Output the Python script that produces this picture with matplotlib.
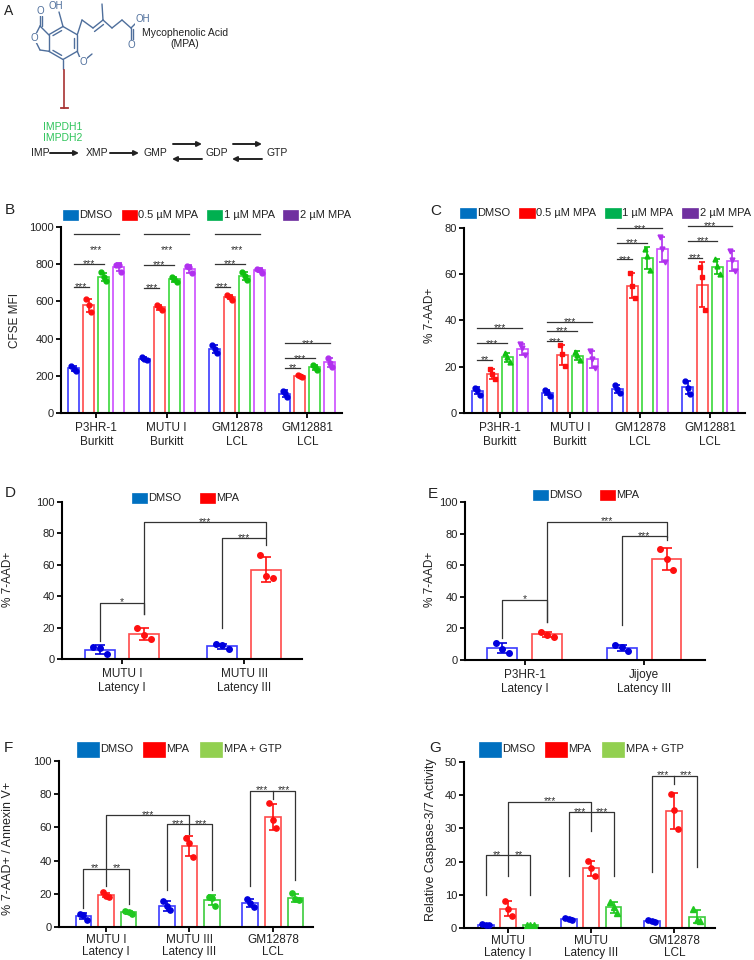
import matplotlib.pyplot as plt
import numpy as np
from matplotlib.patches import Rectangle, FancyArrowPatch

plt.rcParams['font.family'] = ['Liberation Sans', 'DejaVu Sans']
plt.rcParams['axes.linewidth'] = 1.5

W, H = 754, 960

# ---------------- data ----------------
# panel B : CFSE MFI, three replicates per bar
b_groups = ['P3HR-1\nBurkitt', 'MUTU I\nBurkitt', 'GM12878\nLCL', 'GM12881\nLCL']
b_series = ['DMSO', '0.5 µM MPA', '1 µM MPA', '2 µM MPA']
b_dmso = [[252, 238, 228], [300, 292, 283], [366, 342, 324], [120, 108, 84]]
b_mpa05 = [[611, 580, 545], [582, 570, 552], [633, 624, 610], [206, 200, 195]]
b_mpa1 = [[756, 729, 712], [732, 722, 706], [756, 738, 715], [258, 249, 232]]
b_mpa2 = [[796, 795, 760], [790, 785, 752], [776, 770, 755], [298, 268, 250]]
# (group, bar i, bar j, height, label)
b_sig = [(0, 0, 1, 679, '***'), (0, 0, 2, 801, '***'), (0, 0, 3, 962, '***'),
         (1, 0, 1, 674, '***'), (1, 0, 2, 796, '***'), (1, 0, 3, 962, '***'),
         (2, 0, 1, 679, '***'), (2, 0, 2, 801, '***'), (2, 0, 3, 962, '***'),
         (3, 0, 1, 244, '**'), (3, 0, 2, 294, '***'), (3, 0, 3, 375, '***')]

# panel C : % 7-AAD+
c_groups = b_groups
c_series = b_series
c_dmso = [[11.0, 10.0, 8.0], [10.0, 9.0, 7.5], [12.0, 10.3, 8.5], [14.0, 11.0, 8.3]]
c_mpa05 = [[18.9, 17.0, 14.5], [29.4, 25.5, 20.5], [60.5, 55.0, 49.8], [63.0, 58.7, 44.5]]
c_mpa1 = [[26.0, 24.2, 22.0], [26.5, 25.0, 22.8], [71.0, 68.0, 61.7], [66.5, 63.5, 60.0]]
c_mpa2 = [[29.8, 28.0, 25.0], [27.0, 23.3, 19.5], [76.0, 71.0, 65.4], [70.0, 66.0, 61.5]]
c_sig = [(0, 0, 1, 22.9, '**'), (0, 0, 2, 30.1, '***'), (0, 0, 3, 36.9, '***'),
         (1, 0, 1, 31.1, '***'), (1, 0, 2, 35.5, '***'), (1, 0, 3, 39.5, '***'),
         (2, 0, 1, 66.4, '***'), (2, 0, 2, 73.6, '***'), (2, 0, 3, 79.8, '***'),
         (3, 0, 1, 67.2, '***'), (3, 0, 2, 74.4, '***'), (3, 0, 3, 80.9, '***')]

# panel D
d_groups = ['MUTU I\nLatency I', 'MUTU III\nLatency III']
de_series = ['DMSO', 'MPA']
d_dmso = [[7.8, 7.3, 3.0], [9.3, 8.7, 6.2]]
d_mpa = [[19.9, 15.4, 12.7], [66.0, 52.9, 51.6]]
# (label, (group, bar), left arm bottom, (group, bar), right arm bottom, top)
d_sig = [('*', (0, 0), 11.4, (0, 1), 28.4, 35.7),
         ('***', (0, 1), 28.4, (1, 1), 77.7, 87.2),
         ('***', (1, 0), 19.5, (1, 1), 72.6, 77.0)]

# panel E
e_groups = ['P3HR-1\nLatency I', 'Jijoye\nLatency III']
e_dmso = [[11.0, 6.8, 4.5], [9.5, 8.3, 5.6]]
e_mpa = [[17.8, 16.0, 14.8], [70.5, 64.0, 57.0]]
e_sig = [('*', (0, 0), 13.7, (0, 1), 24.2, 38.0),
         ('***', (0, 1), 24.2, (1, 1), 78.0, 87.3),
         ('***', (1, 0), 22.0, (1, 1), 75.9, 78.3)]

# panel F : % 7-AAD+ / Annexin V+
f_groups = ['MUTU I\nLatency I', 'MUTU III\nLatency III', 'GM12878\nLCL']
fg_series = ['DMSO', 'MPA', 'MPA + GTP']
f_dmso = [[8.0, 7.2, 4.5], [15.5, 12.5, 10.0], [16.8, 14.5, 11.8]]
f_mpa = [[20.8, 18.6, 18.2], [53.5, 50.5, 42.2], [74.8, 64.2, 59.5]]
f_gtp = [[9.5, 9.0, 8.0], [18.2, 17.5, 12.5], [20.5, 16.6, 16.0]]
# per group: left arm bottom, right arm bottom, top, centre tick bottom
f_grp_sig = [(11.4, 13.8, 35.0, 35.0), (22.4, 22.4, 62.0, 62.0), (24.4, 28.4, 82.0, 77.4)]
f_grp_lab = [('**', '**'), ('***', '***'), ('***', '***')]
f_long = ('***', (0, 1), 24.4, (1, 1), 56.2, 67.4)

# panel G : caspase 3/7
g_groups = ['MUTU\nLatency I', 'MUTU\nLatency III', 'GM12878\nLCL']
g_dmso = [[1.1, 1.0, 1.0], [3.0, 2.7, 2.5], [2.4, 2.0, 1.7]]
g_mpa = [[8.0, 5.8, 3.5], [20.3, 18.0, 15.6], [40.4, 35.5, 29.8]]
g_gtp = [[1.0, 0.9, 0.8], [7.9, 6.3, 4.4], [5.6, 2.5, 2.2]]
g_grp_sig = [(9.8, 9.8, 21.9, 21.9), (15.6, 15.6, 34.9, 34.9), (16.8, 18.5, 45.8, 43.3)]
g_grp_lab = [('**', '**'), ('***', '***'), ('***', '***')]
g_long = ('***', (0, 1), 15.6, (1, 1), 29.3, 38.0)

# ---------------- styles ----------------
EDGE4 = ['#3b3bff', '#ff4a4a', '#3ad83a', '#cc4dff']
DOT4 = ['#0000dd', '#ff1010', '#10c010', '#b030ee']
LEG4 = ['#0070c0', '#ff0000', '#00b050', '#7030a0']
EDGE3 = ['#3b3bff', '#ff4a4a', '#3ccc3c']
DOT3 = ['#0000dd', '#ff1010', '#20c820']
LEG3 = ['#0070c0', '#ff0000', '#92d050']
SIG = '#333333'
NARROW = ['Liberation Sans Narrow', 'Liberation Sans', 'DejaVu Sans']

fig = plt.figure(figsize=(W / 100, H / 100), dpi=100)


def fx(x):
    return x / W


def fy(y):
    return 1 - y / H


def add_ax(l, t, r, b, xpad=3):
    ax = fig.add_axes([fx(l), fy(b), (r - l) / W, (b - t) / H])
    ax.spines[['top', 'right']].set_visible(False)
    ax.tick_params(direction='out', length=3.5, width=1.3, labelsize=8, labelcolor='#222222', pad=1.5)
    ax.tick_params(axis='x', labelsize=8.5, pad=xpad)
    return ax


def xpos(g, k, n, step):
    return g + (k - (n - 1) / 2) * step


def draw_bars(ax, series, edges, dots, marks, width, step, ms, cap):
    n = len(series)
    for k, pts in enumerate(series):
        pts = np.array(pts, dtype=float)
        x = xpos(np.arange(len(pts)), k, n, step)
        m = pts.mean(axis=1)
        sd = pts.std(axis=1, ddof=1)
        ax.bar(x, m, width, color='white', edgecolor=edges[k], linewidth=1.2, zorder=2)
        ax.errorbar(x, m, yerr=sd, fmt='none', ecolor=dots[k], elinewidth=1.2,
                    capsize=cap, capthick=1.2, zorder=3)
        jit = np.array([-0.22, 0.0, 0.22]) * width
        for xi, row in zip(x, pts):
            ax.plot(xi + jit, row, linestyle='none', marker=marks[k], ms=ms,
                    color=dots[k], zorder=4)


def stars(ax, x, y, label, dy):
    ax.annotate(label, (x, y), xytext=(0, dy * 0.72), textcoords='offset points',
                ha='center', va='baseline', fontsize=7.5, color=SIG, annotation_clip=False)


def sig_lines(ax, sig, n, step, top_dy):
    for g, i, j, y, lab in sig:
        x1, x2 = xpos(g, i, n, step), xpos(g, j, n, step)
        ax.plot([x1, x2], [y, y], color=SIG, lw=0.9, clip_on=False)
        dy = top_dy if (j == n - 1 and top_dy is not None and g < 3) else -3.5
        stars(ax, (x1 + x2) / 2, y, lab, dy)


def bracket(ax, sig, n, step):
    lab, (g1, k1), y1, (g2, k2), y2, top = sig
    x1, x2 = xpos(g1, k1, n, step), xpos(g2, k2, n, step)
    ax.plot([x1, x1, x2, x2], [y1, top, top, y2], color=SIG, lw=0.9, clip_on=False)
    stars(ax, (x1 + x2) / 2, top, lab, -2.5)


def group_brackets(ax, grp, labs, step):
    for g, ((yl, yr, top, tick), (la, lb)) in enumerate(zip(grp, labs)):
        x0, xm, x2 = (xpos(g, k, 3, step) for k in range(3))
        ax.plot([x0, x0, x2, x2], [yl, top, top, yr], color=SIG, lw=0.9, clip_on=False)
        ax.plot([xm, xm], [top, tick], color=SIG, lw=0.9, clip_on=False)
        stars(ax, (x0 + xm) / 2, top, la, -2.5)
        stars(ax, (xm + x2) / 2, top, lb, -2.5)


def legend_row(labels, colors, xs, yc, pw, ph):
    for lab, col, x in zip(labels, colors, xs):
        fig.patches.append(Rectangle((fx(x), fy(yc + ph / 2)), pw / W, ph / H,
                                     transform=fig.transFigure, facecolor=col,
                                     edgecolor=col, lw=0.5))
        fig.text(fx(x + pw + 1.5), fy(yc), lab, ha='left', va='center', fontsize=8, color='#222222')


def panel_letter(x, y, s, size=11):
    fig.text(fx(x), fy(y), s, ha='left', va='center', fontsize=size, color='#222222')


def ylab(x, y, s, size=8.5):
    fig.text(fx(x), fy(y), s, ha='center', va='center', rotation=90, fontsize=size, color='#222222')


# ---------------- panel A ----------------
axa = fig.add_axes([0, fy(180), 1, 180 / H])
axa.set_xlim(0, W)
axa.set_ylim(180, 0)
axa.axis('off')
MOL = '#4f6f9c'


def bond(p, q, lw=1.0):
    axa.plot([p[0], q[0]], [p[1], q[1]], color=MOL, lw=lw, solid_capstyle='round')


cx, cy, r = 63.0, 43.0, 16.5
ang = np.deg2rad(90 + 60 * np.arange(6))
hexv = [(cx + r * np.cos(a), cy - r * np.sin(a)) for a in ang]
for i in range(6):
    bond(hexv[i], hexv[(i + 1) % 6])
for i in (0, 2, 4):
    p, q = np.array(hexv[i]), np.array(hexv[(i + 1) % 6])
    c = np.array([cx, cy])
    p2, q2 = p + (c - p) * 0.2, q + (c - q) * 0.2
    bond(p2 + (q2 - p2) * 0.12, q2 - (q2 - p2) * 0.12)
top, ul, ll, bot, lr, ur = hexv[0], hexv[1], hexv[2], hexv[3], hexv[4], hexv[5]
c1, o_ring, ch2 = (40, 26), (34, 38), (40, 50)
bond(ul, c1); bond(c1, o_ring); bond(o_ring, ch2); bond(ch2, ll)
bond(c1, (40, 15)); bond((42.3, 26), (42.3, 16))
bond(top, (59, 12))
chain = [ur, (82, 20), (93, 28), (103, 20), (112, 28), (122, 20), (131, 28)]
for p, q in zip(chain[:-1], chain[1:]):
    bond(p, q)
bond((94.5, 31.5), (103.5, 24.5))
bond((103, 20), (102, 4))
bond((131, 28), (131, 40)); bond((133.3, 29), (133.3, 40))
bond((131, 28), (137, 22))
bond(lr, (80, 58)); bond((86, 59), (92, 54))
bond(bot, (63, 69))
for (x, y, s) in [(40, 11, 'O'), (34, 38, 'O'), (56, 6, 'OH'), (131, 45, 'O'),
                  (143, 19.5, 'OH'), (83, 62, 'O')]:
    axa.text(x, y, s, ha='center', va='center', fontsize=7, color=MOL, family=NARROW,
             bbox=dict(facecolor='white', edgecolor='none', pad=0.2))
axa.text(185, 33, 'Mycophenolic Acid', ha='center', va='center', fontsize=7.5,
         color='#222222', family=NARROW)
axa.text(185, 44, '(MPA)', ha='center', va='center', fontsize=7.5, color='#222222', family=NARROW)
axa.plot([64, 64], [70, 108], color='#a83232', lw=1.2)
axa.plot([60.5, 67.5], [108, 108], color='#a83232', lw=1.3)
axa.text(63, 127, 'IMPDH1', ha='center', va='center', fontsize=7.5, color='#2ec45a', family=NARROW)
axa.text(63, 138, 'IMPDH2', ha='center', va='center', fontsize=7.5, color='#2ec45a', family=NARROW)
for x, s in [(40, 'IMP'), (97, 'XMP'), (155, 'GMP'), (217, 'GDP'), (277, 'GTP')]:
    axa.text(x, 153, s, ha='center', va='center', fontsize=7.5, color='#222222', family=NARROW)
for x0, x1, y in [(50, 79, 153), (110, 139, 153), (173, 202, 144), (202, 172, 159),
                  (233, 262, 144), (262, 232, 159)]:
    axa.add_patch(FancyArrowPatch((x0, y), (x1, y), arrowstyle='-|>', mutation_scale=7,
                                  color='#222222', lw=1.4, shrinkA=0, shrinkB=0))
panel_letter(4, 11, 'A', 10)

# ---------------- panel B ----------------
axb = add_ax(61, 227, 342, 413)
draw_bars(axb, [b_dmso, b_mpa05, b_mpa1, b_mpa2], EDGE4, DOT4, ['o'] * 4, 0.156, 0.213, 3.5, 2.2)
axb.set_xlim(-0.5, 3.49)
axb.set_ylim(0, 1000)
axb.set_yticks(np.arange(0, 1001, 200))
axb.set_xticks(range(len(b_groups)), b_groups, linespacing=1.25)
sig_lines(axb, b_sig, 4, 0.213, -19)
legend_row(b_series, LEG4, [63, 122, 207, 283], 215, 15, 9)
panel_letter(5, 210, 'B')
ylab(15.5, 321, 'CFSE MFI')

# ---------------- panel C ----------------
axc = add_ax(464, 228, 745, 413)
draw_bars(axc, [c_dmso, c_mpa05, c_mpa1, c_mpa2], EDGE4, DOT4, ['o', 's', '^', 'v'], 0.156, 0.213, 3.5, 2.2)
axc.set_xlim(-0.51, 3.5)
axc.set_ylim(0, 80)
axc.set_yticks(np.arange(0, 81, 20))
axc.set_xticks(range(len(c_groups)), c_groups, linespacing=1.25)
sig_lines(axc, c_sig, 4, 0.213, None)
legend_row(c_series, LEG4, [460, 519, 605, 682], 213, 16, 9)
panel_letter(430, 211, 'C')
ylab(430, 315, '% 7-AAD+')

# ---------------- panel D ----------------
axd = add_ax(62, 502, 302, 659)
draw_bars(axd, [d_dmso, d_mpa], EDGE3, DOT3, ['o', 'o'], 0.245, 0.36, 4.0, 3.8)
axd.set_xlim(-0.49, 1.47)
axd.set_ylim(0, 100)
axd.set_yticks(np.arange(0, 101, 20))
axd.set_xticks(range(len(d_groups)), d_groups, linespacing=1.25)
for s in d_sig:
    bracket(axd, s, 2, 0.36)
legend_row(de_series, LEG3, [132, 200], 498, 15, 10)
panel_letter(5, 493, 'D')
ylab(8, 579, '% 7-AAD+')

# ---------------- panel E ----------------
axe = add_ax(465, 502, 705, 660)
draw_bars(axe, [e_dmso, e_mpa], EDGE3, DOT3, ['o', 'o'], 0.25, 0.376, 4.0, 3.8)
axe.set_xlim(-0.5, 1.51)
axe.set_ylim(0, 100)
axe.set_yticks(np.arange(0, 101, 20))
axe.set_xticks(range(len(e_groups)), e_groups, linespacing=1.25)
for s in e_sig:
    bracket(axe, s, 2, 0.376)
legend_row(de_series, LEG3, [533, 600], 495, 15, 10)
panel_letter(428, 494, 'E')
ylab(430, 579, '% 7-AAD+')

# ---------------- panel F ----------------
axf = add_ax(59, 761, 313, 927, xpad=1.2)
draw_bars(axf, [f_dmso, f_mpa, f_gtp], EDGE3, DOT3, ['o', 'o', 'o'], 0.19, 0.27, 3.8, 2.6)
axf.set_xlim(-0.563, 2.48)
axf.set_ylim(0, 100)
axf.set_yticks(np.arange(0, 101, 20))
axf.set_xticks(range(len(f_groups)), f_groups, linespacing=1.1)
group_brackets(axf, f_grp_sig, f_grp_lab, 0.27)
bracket(axf, f_long, 3, 0.27)
legend_row(fg_series, LEG3, [77, 143, 200], 749, 22, 15)
panel_letter(4, 748, 'F')
ylab(8, 848, '% 7-AAD+ / Annexin V+', 9)

# ---------------- panel G ----------------
axg = add_ax(464, 762, 715, 928, xpad=1.2)
draw_bars(axg, [g_dmso, g_mpa, g_gtp], EDGE3, DOT3, ['o', 'o', '^'], 0.19, 0.27, 3.8, 2.6)
axg.set_xlim(-0.53, 2.49)
axg.set_ylim(0, 50)
axg.set_yticks(np.arange(0, 51, 10))
axg.set_xticks(range(len(g_groups)), g_groups, linespacing=1.1)
group_brackets(axg, g_grp_sig, g_grp_lab, 0.27)
bracket(axg, g_long, 3, 0.27)
legend_row(fg_series, LEG3, [479, 545, 602], 749, 22, 15)
panel_letter(429, 748, 'G')
ylab(431, 840, 'Relative Caspase-3/7 Activity', 9)

fig.savefig('out.png', dpi=100)
